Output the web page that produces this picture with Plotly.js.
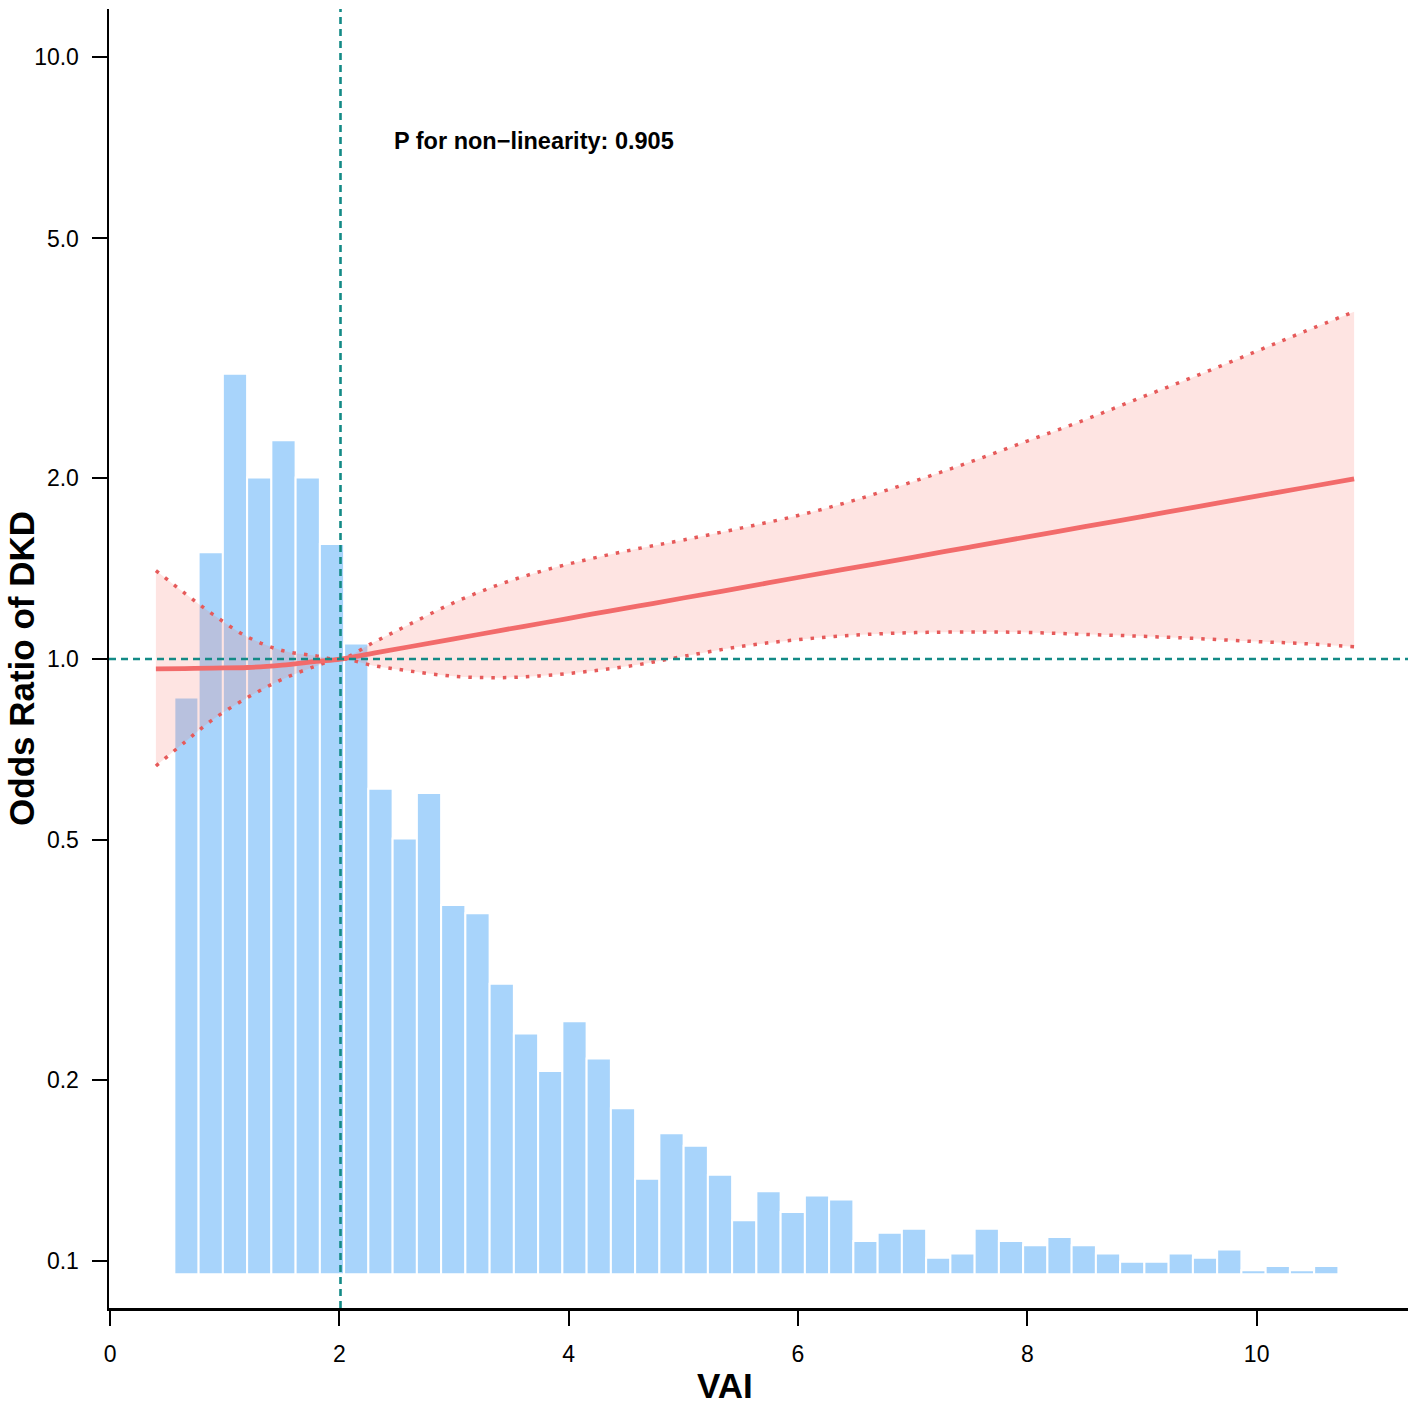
<!DOCTYPE html>
<html>
<head>
<meta charset="utf-8">
<script src="https://cdn.plot.ly/plotly-3.0.1.min.js"></script>
<style>
  html, body { margin: 0; padding: 0; background: #fff; }
  #chart { width: 1418px; height: 1405px; }
</style>
</head>
<body>
<div id="chart"></div>
<script>
// histogram of VAI (counts per bin)
const binStart = 0.561;
const binWidth = 0.2115;
const binCounts = [
  139, 174, 217, 192, 201, 192, 176, 152, 117, 105,
  116, 89, 87, 70, 58, 49, 61, 52, 40, 23,
  34, 31, 24, 13, 20, 15, 19, 18, 8, 10,
  11, 4, 5, 11, 8, 7, 9, 7, 5, 3,
  3, 5, 4, 6, 1, 2, 1, 2
];

// restricted cubic spline fit: odds ratio and 95% CI
const vai = [0.4, 0.65, 0.9, 1.2, 1.5, 1.8, 2.01, 2.3, 2.6, 3.0, 3.4, 3.8, 4.2, 4.6, 5.0,
  5.5, 6.0, 6.5, 7.0, 7.5, 8.0, 8.5, 9.0, 9.5, 10.0, 10.4, 10.85];
const orFit = [0.963, 0.964, 0.966, 0.968, 0.977, 0.991, 1.0, 1.023, 1.047, 1.080, 1.115, 1.150, 1.187, 1.224, 1.263,
  1.313, 1.366, 1.420, 1.476, 1.535, 1.596, 1.659, 1.725, 1.794, 1.865, 1.924, 1.993];
const orUpper = [1.403, 1.287, 1.185, 1.088, 1.033, 1.012, 1.0, 1.066, 1.139, 1.241, 1.331, 1.406, 1.469, 1.525, 1.577,
  1.650, 1.732, 1.838, 1.971, 2.125, 2.303, 2.497, 2.724, 2.969, 3.247, 3.491, 3.778];
const orLower = [0.664, 0.727, 0.794, 0.863, 0.925, 0.974, 1.0, 0.975, 0.956, 0.936, 0.931, 0.939, 0.955, 0.978, 1.010,
  1.049, 1.077, 1.096, 1.106, 1.109, 1.107, 1.099, 1.091, 1.081, 1.069, 1.061, 1.048];

const refVai = 2.01;
const pText = "P for non\u2212linearity: 0.905";

const xTicks = [0, 2, 4, 6, 8, 10];
const yTickVals = [0.1, 0.2, 0.5, 1, 2, 5, 10];
const yTickText = ["0.1", "0.2", "0.5", "1.0", "2.0", "5.0", "10.0"];

const font = "Liberation Sans, Arial, sans-serif";
const red = "#f26b6b";
const dotRed = "#e65a5a";
const teal = "#138a86";

const binMids = binCounts.map((c, i) => binStart + binWidth * (i + 0.5));

const ciLine = { color: dotRed, width: 3.5, dash: "3.5px,8px", shape: "spline" };

const traces = [
  {
    type: "bar",
    x: binMids,
    y: binCounts,
    width: binWidth,
    xaxis: "x",
    yaxis: "y",
    marker: { color: "#a8d4fb", line: { color: "#ffffff", width: 2 } },
    hoverinfo: "skip",
    showlegend: false
  },
  {
    type: "scatter",
    mode: "lines",
    x: vai,
    y: orLower,
    xaxis: "x",
    yaxis: "y2",
    line: ciLine,
    hoverinfo: "skip",
    showlegend: false
  },
  {
    type: "scatter",
    mode: "lines",
    x: vai,
    y: orUpper,
    xaxis: "x",
    yaxis: "y2",
    fill: "tonexty",
    fillcolor: "rgba(248,118,109,0.2)",
    line: ciLine,
    hoverinfo: "skip",
    showlegend: false
  },
  {
    type: "scatter",
    mode: "lines",
    x: vai,
    y: orFit,
    xaxis: "x",
    yaxis: "y2",
    line: { color: red, width: 4.8, shape: "spline" },
    hoverinfo: "skip",
    showlegend: false
  }
];

const layout = {
  width: 1418,
  height: 1405,
  margin: { l: 109, r: 10, t: 9, b: 97, pad: 0 },
  paper_bgcolor: "#ffffff",
  plot_bgcolor: "#ffffff",
  font: { family: font, color: "#000000" },
  showlegend: false,
  xaxis: {
    range: [-0.009, 11.32],
    showgrid: false,
    zeroline: false,
    showline: true,
    linecolor: "#000000",
    linewidth: 2.5,
    ticks: "outside",
    ticklen: 15,
    tickwidth: 2,
    tickcolor: "#000000",
    tickvals: xTicks,
    tickfont: { family: font, size: 23, color: "#000000" },
    ticklabelstandoff: 9
  },
  yaxis: {
    range: [-8.12, 304.9],
    visible: false,
    showgrid: false,
    zeroline: false
  },
  yaxis2: {
    type: "log",
    range: [-1.0786, 1.0803],
    overlaying: "y",
    side: "left",
    showgrid: false,
    zeroline: false,
    showline: true,
    linecolor: "#000000",
    linewidth: 2.5,
    ticks: "outside",
    ticklen: 15,
    tickwidth: 2,
    tickcolor: "#000000",
    tickvals: yTickVals,
    ticktext: yTickText,
    tickfont: { family: font, size: 23, color: "#000000" },
    ticklabelstandoff: 8
  },
  shapes: [
    {
      type: "line", layer: "above",
      xref: "x", yref: "paper",
      x0: refVai, x1: refVai, y0: 0, y1: 1,
      line: { color: teal, width: 2.6, dash: "7px,5px" }
    },
    {
      type: "line", layer: "above",
      xref: "paper", yref: "y2",
      x0: 0, x1: 1, y0: 1, y1: 1,
      line: { color: teal, width: 2.6, dash: "7px,5px" }
    }
  ],
  annotations: [
    {
      text: pText,
      xref: "x", yref: "y2",
      x: 2.46, y: 0.861,
      xanchor: "left", yanchor: "middle",
      showarrow: false,
      font: { family: font, size: 23.5, weight: 700, color: "#000000" }
    },
    {
      text: "VAI",
      xref: "paper", yref: "paper",
      x: 0.4742, y: -0.0593,
      xanchor: "center", yanchor: "middle",
      showarrow: false,
      font: { family: font, size: 35, weight: 700, color: "#000000" }
    },
    {
      text: "Odds Ratio of DKD",
      xref: "paper", yref: "paper",
      x: -0.067, y: 0.4927,
      xanchor: "center", yanchor: "middle",
      textangle: -90,
      showarrow: false,
      font: { family: font, size: 35, weight: 700, color: "#000000" }
    }
  ]
};

Plotly.newPlot("chart", traces, layout, { displayModeBar: false, staticPlot: true });
</script>
</body>
</html>
